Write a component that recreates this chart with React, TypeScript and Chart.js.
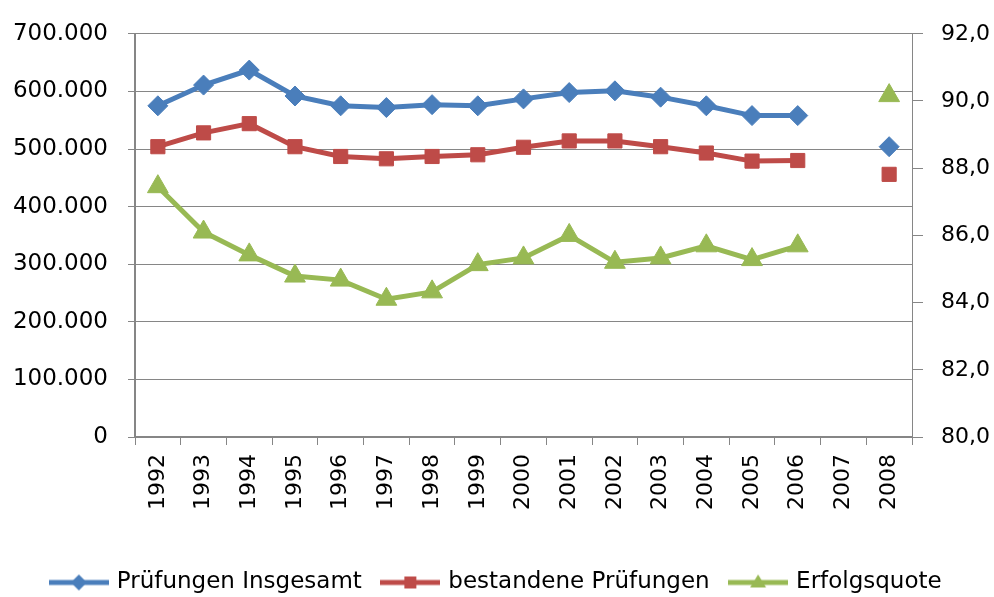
import React, { useEffect, useRef } from 'react';
import { Chart, registerables } from 'chart.js';

Chart.register(...registerables);

const years = ['1992', '1993', '1994', '1995', '1996', '1997', '1998', '1999', '2000', '2001', '2002', '2003', '2004', '2005', '2006', '2007', '2008'];
const totalExams = [575000, 611000, 637000, 592000, 575000, 572000, 577000, 575000, 587000, 598000, 601000, 590000, 575000, 558000, 558000, null, 504000];
const passedExams = [504000, 528000, 544000, 504000, 487000, 483000, 487000, 490000, 503000, 514000, 514000, 504000, 493000, 479000, 480000, null, 456000];
const successRate = [87.45, 86.1, 85.42, 84.79, 84.67, 84.1, 84.32, 85.13, 85.33, 86.0, 85.2, 85.33, 85.69, 85.28, 85.69, null, 90.16];

const seriesLabels = ['Prüfungen Insgesamt', 'bestandene Prüfungen', 'Erfolgsquote'];
const seriesColors = ['#4A7EBB', '#BE4B48', '#98B954'];
const seriesMarkers = ['rectRot', 'rect', 'triangle'];

const leftMin = 0;
const leftMax = 700000;
const leftStep = 100000;
const rightMin = 80;
const rightMax = 92;
const rightStep = 2;

const AXIS_GREY = '#868686';
const FONT = 'DejaVu Sans';

function legendIcon(color: string, marker: string): HTMLCanvasElement {
  const c = document.createElement('canvas');
  c.width = 60;
  c.height = 26;
  const ctx = c.getContext('2d')!;
  ctx.strokeStyle = color;
  ctx.fillStyle = color;
  ctx.lineWidth = 5;
  ctx.beginPath();
  ctx.moveTo(0, 13);
  ctx.lineTo(60, 13);
  ctx.stroke();
  ctx.beginPath();
  if (marker === 'rectRot') {
    ctx.moveTo(30, 5);
    ctx.lineTo(38, 13);
    ctx.lineTo(30, 21);
    ctx.lineTo(22, 13);
  } else if (marker === 'rect') {
    ctx.rect(24, 7, 12, 12);
  } else {
    ctx.moveTo(30, 5);
    ctx.lineTo(38, 18);
    ctx.lineTo(22, 18);
  }
  ctx.closePath();
  ctx.fill();
  return c;
}

const formatThousands = (v: number) => String(Math.round(v)).replace(/\B(?=(\d{3})+(?!\d))/g, '.');
const formatDecimal = (v: number) => v.toFixed(1).replace('.', ',');

export default function App() {
  const ref = useRef<HTMLCanvasElement | null>(null);

  useEffect(() => {
    if (!ref.current) return;
    const icons = seriesColors.map((c, i) => legendIcon(c, seriesMarkers[i]));
    const radii = [10, 10, 12];
    const dataSets = [totalExams, passedExams, successRate];
    const axes = ['y', 'y', 'y1'];

    const chart = new Chart(ref.current, {
      type: 'line',
      data: {
        labels: years,
        datasets: dataSets.map((d, i) => ({
          label: seriesLabels[i],
          data: d,
          yAxisID: axes[i],
          borderColor: seriesColors[i],
          backgroundColor: seriesColors[i],
          borderWidth: 5,
          pointStyle: seriesMarkers[i] as any,
          pointRadius: radii[i],
          pointBorderWidth: 1,
          pointBackgroundColor: seriesColors[i],
          pointBorderColor: seriesColors[i],
          tension: 0,
          spanGaps: false,
          fill: false,
        })),
      },
      options: {
        responsive: false,
        animation: false,
        layout: { padding: { top: 27, left: 0, right: 0, bottom: 0 } },
        font: { family: FONT },
        plugins: {
          tooltip: { enabled: false },
          legend: {
            position: 'bottom',
            labels: {
              usePointStyle: true,
              pointStyleWidth: 53,
              padding: 22,
              color: '#000',
              font: { family: FONT, size: 23 },
              generateLabels: (ch: any) =>
                ch.data.datasets.map((ds: any, i: number) => ({
                  text: ds.label,
                  pointStyle: icons[i],
                  fillStyle: seriesColors[i],
                  strokeStyle: 'rgba(0,0,0,0)',
                  lineWidth: 0,
                  hidden: false,
                  datasetIndex: i,
                  fontColor: '#000',
                })),
            },
          },
        },
        scales: {
          x: {
            type: 'category',
            offset: true,
            afterFit: (s: any) => {
              s.height = 112;
            },
            border: { color: AXIS_GREY, width: 2 },
            grid: {
              offset: true,
              drawOnChartArea: false,
              drawTicks: true,
              tickLength: 8,
              color: AXIS_GREY,
            },
            ticks: {
              minRotation: 90,
              maxRotation: 90,
              autoSkip: false,
              padding: 9,
              color: '#000',
              font: { family: FONT, size: 22 },
            },
          },
          y: {
            type: 'linear',
            position: 'left',
            min: leftMin,
            max: leftMax,
            afterFit: (s: any) => {
              s.width = 135;
            },
            border: { color: AXIS_GREY, width: 2 },
            grid: { color: AXIS_GREY, lineWidth: 1, tickLength: 7 },
            ticks: {
              stepSize: leftStep,
              padding: 20,
              color: '#000',
              font: { family: FONT, size: 23 },
              callback: (v: any) => formatThousands(Number(v)),
            },
          },
          y1: {
            type: 'linear',
            position: 'right',
            min: rightMin,
            max: rightMax,
            afterFit: (s: any) => {
              s.width = 82;
            },
            border: { color: AXIS_GREY, width: 1 },
            grid: { drawOnChartArea: false, color: AXIS_GREY, tickLength: 11 },
            ticks: {
              stepSize: rightStep,
              padding: 18,
              color: '#000',
              font: { family: FONT, size: 22 },
              callback: (v: any) => formatDecimal(Number(v)),
            },
          },
        },
      },
    } as any);

    return () => chart.destroy();
  }, []);

  return (
    <div style={{ position: 'fixed', left: 0, top: 0, width: 994, height: 604, background: '#fff' }}>
      <canvas ref={ref} width={994} height={604} style={{ display: 'block', width: 994, height: 604 }} />
    </div>
  );
}
